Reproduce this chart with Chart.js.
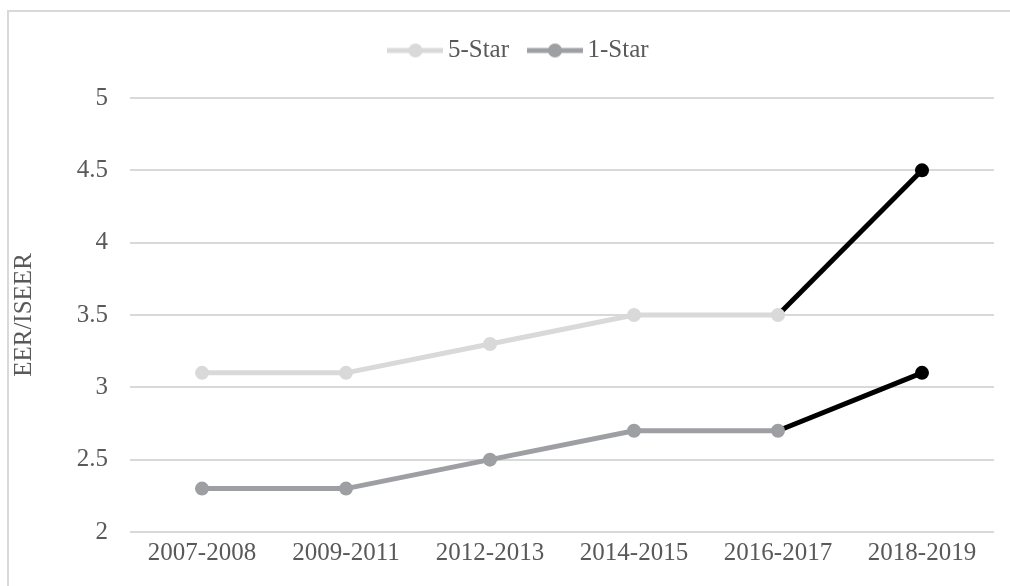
<!DOCTYPE html>
<html>
<head>
<meta charset="utf-8">
<title>EER/ISEER</title>
<script src="https://cdn.jsdelivr.net/npm/chart.js@4.4.1/dist/chart.umd.min.js"></script>
<style>
  body { margin: 0; background: #fff; overflow: hidden; }
  #frame {
    position: absolute; left: 7px; top: 10px;
    width: 1100px; height: 700px;
    border: 2px solid #d9d9d9;
  }
  #chart { position: absolute; left: 0; top: 0; }
</style>
</head>
<body>
<div id="frame"></div>
<canvas id="chart" width="1010" height="586"></canvas>
<script>
// Star rating efficiency by period
var periods = ["2007-2008", "2009-2011", "2012-2013", "2014-2015", "2016-2017", "2018-2019"];
var fiveStar = [3.1, 3.1, 3.3, 3.5, 3.5, 4.5];
var oneStar = [2.3, 2.3, 2.5, 2.7, 2.7, 3.1];
var yTicks = [2, 2.5, 3, 3.5, 4, 4.5, 5];

var textColor = "#595959";
var gridColor = "#d9d9d9";
var lightGrey = "#d9d9d9";
var midGrey = "#9d9fa3";
var font = "'Liberation Serif', 'Times New Roman', serif";

// last period is highlighted in black
function pointColors(color, n) {
  var out = [];
  for (var i = 0; i < n; i++) out.push(i === n - 1 ? "#000" : color);
  return out;
}

// little line + dot sample for the legend
function legendMark(color) {
  var c = document.createElement("canvas");
  c.width = 56;
  c.height = 18;
  var g = c.getContext("2d");
  g.strokeStyle = color;
  g.lineWidth = 5;
  g.beginPath();
  g.moveTo(0, 9);
  g.lineTo(56, 9);
  g.stroke();
  g.fillStyle = color;
  g.beginPath();
  g.arc(28, 9, 7, 0, Math.PI * 2);
  g.fill();
  return c;
}
var marks = [legendMark(lightGrey), legendMark(midGrey)];

function series(label, values, color) {
  return {
    label: label,
    data: values,
    borderColor: color,
    backgroundColor: color,
    borderWidth: 5,
    pointRadius: 7,
    pointHoverRadius: 7,
    pointBorderWidth: 0,
    pointBackgroundColor: pointColors(color, values.length),
    tension: 0,
    segment: {
      borderColor: function (ctx) {
        return ctx.p1DataIndex === values.length - 1 ? "#000" : undefined;
      }
    }
  };
}

// more room under the legend, and nudge it a bit to the right
var legendSpacing = {
  id: "legendSpacing",
  beforeLayout: function (chart) {
    var lg = chart.legend;
    if (lg && !lg._spaced) {
      var fit = lg.fit;
      lg.fit = function () {
        fit.call(this);
        this.height += 25;
      };
      lg._spaced = true;
    }
  },
  afterLayout: function (chart) {
    chart.legend.left += 25;
    chart.legend.right += 25;
  }
};

var ctx = document.getElementById("chart").getContext("2d");
new Chart(ctx, {
  type: "line",
  data: {
    labels: periods,
    datasets: [
      series("5-Star", fiveStar, lightGrey),
      series("1-Star", oneStar, midGrey)
    ]
  },
  plugins: [legendSpacing],
  options: {
    responsive: false,
    animation: false,
    layout: { padding: { left: 0, right: 16, top: 12, bottom: 12 } },
    plugins: {
      tooltip: { enabled: false },
      legend: {
        position: "top",
        labels: {
          usePointStyle: true,
          pointStyleWidth: 40,
          padding: 26,
          color: textColor,
          font: { family: font, size: 25 },
          generateLabels: function (chart) {
            return Chart.defaults.plugins.legend.labels.generateLabels(chart).map(function (item, i) {
              item.pointStyle = marks[i];
              return item;
            });
          }
        }
      }
    },
    scales: {
      x: {
        offset: true,
        grid: { display: false, drawTicks: false },
        border: { display: false },
        ticks: {
          color: textColor,
          padding: 6,
          maxRotation: 0,
          font: { family: font, size: 25 }
        }
      },
      y: {
        min: 2,
        max: 5,
        afterBuildTicks: function (scale) {
          scale.ticks = yTicks.map(function (v) { return { value: v }; });
        },
        afterFit: function (scale) { scale.width = 130; },
        grid: { color: gridColor, lineWidth: 2, drawTicks: false },
        border: { display: false },
        ticks: {
          color: textColor,
          padding: 22,
          font: { family: font, size: 25 },
          callback: function (v) { return String(v); }
        },
        title: {
          display: true,
          text: "EER/ISEER",
          color: textColor,
          padding: { top: 9, bottom: 4 },
          font: { family: font, size: 25 }
        }
      }
    }
  }
});
</script>
</body>
</html>
